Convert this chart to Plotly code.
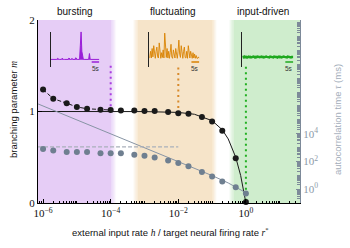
import plotly.graph_objects as go

# ---------------- data ----------------
h_pts = [1e-6, 2e-6, 5e-6, 1e-5, 2e-5, 5e-5, 1e-4, 2e-4, 5e-4, 1e-3, 2e-3, 5e-3,
         1e-2, 2e-2, 5e-2, 0.1, 0.2, 0.5, 1.0]
m_pts = [1.24, 1.14, 1.09, 1.05, 1.03, 1.02, 1.016, 1.01, 1.01, 1.005, 1.005, 0.995,
         0.98, 0.975, 0.94, 0.89, 0.79, 0.49, 0.01]
tau_pts = [780, 620, 480, 480, 480, 380, 380, 380, 300, 257, 195, 117,
           76, 44, 17.4, 8.3, 3.6, 1.35, 0.48]

# theory curves
h_theory = [7.1e-7, 1e-5, 1e-4, 1e-3, 1e-2, 3e-2, 0.1, 0.2, 0.3, 0.5, 0.7, 0.85, 0.95, 1.0]
m_theory = [1.0, 1.0, 1.0, 0.999, 0.99, 0.97, 0.9, 0.8, 0.7, 0.5, 0.3, 0.15, 0.05, 0.0]
h_tau_line = [7.1e-7, 1e-4, 1e-2, 1e-1, 0.3, 0.6, 1.0]
tau_line = [1.4e6, 1.0e4, 100, 9.5, 2.8, 1.1, 0.55]

# dashed guides
n_dashed = 7
tau_ref_level = 1100
h_ref_end = 1e-2

# regions (log10 h): core start, core end
regions = {
    "bursting": (-6.15, -3.98, "#e6cdf6"),
    "fluctuating": (-3.2, -1.0, "#f6e4c9"),
    "input-driven": (-0.36, 1.6, "#cfedcd"),
}
region_h = [1e-4, 1e-2, 1.0]
region_m_top = [1.5, 1.48, 1.49]
region_m_bot = [1.016, 0.98, 0.01]
region_colors = ["#a93ee0", "#d88a2c", "#22b022"]
region_dark = ["#9a1fd8", "#d98200", "#1ea81e"]

# inset activity traces (0.5 s bins, 0..32 s)
t_inset = [i * 0.5 for i in range(65)]
burst = [0.01] * 65
for i, v in {9: 0.05, 15: 0.05, 24: 0.06, 28: 0.05, 33: 0.07, 39: 0.5, 40: 1.0,
             41: 0.3, 42: 0.06, 51: 0.22}.items():
    burst[i] = v
fluct = [0.05, 0.08, 0.3, 0.06, 0.4, 0.1, 0.5, 0.08, 0.05, 0.3, 0.45, 0.1, 0.06, 0.6, 0.1, 0.05,
         0.25, 0.08, 0.35, 0.06, 0.95, 0.3, 0.08, 0.4, 0.06, 0.3, 0.05, 0.25, 0.55, 0.1, 0.05, 0.35,
         0.08, 0.06, 0.4, 0.1, 0.05, 0.3, 0.7, 0.2, 0.08, 0.5, 0.1, 0.05, 0.3, 0.45, 0.08, 0.06,
         0.3, 0.05, 0.5, 0.1, 0.06, 0.3, 0.08, 0.05, 0.25, 0.06, 0.2, 0.05, 0.15, 0.05, 0.05, 0.1, 0.05]
driven = [0.09, 0.1, 0.08, 0.11, 0.09, 0.1, 0.08, 0.1, 0.11, 0.09, 0.1, 0.08, 0.1, 0.09, 0.11, 0.1,
          0.08, 0.1, 0.09, 0.11, 0.1, 0.08, 0.09, 0.1, 0.11, 0.09, 0.1, 0.08, 0.1, 0.09, 0.11, 0.1,
          0.09, 0.1, 0.08, 0.11, 0.1, 0.09, 0.1, 0.08, 0.11, 0.09, 0.1, 0.1, 0.08, 0.1, 0.11, 0.09,
          0.1, 0.08, 0.1, 0.09, 0.11, 0.1, 0.09, 0.1, 0.08, 0.11, 0.1, 0.09, 0.1, 0.08, 0.1, 0.09, 0.1]
scale_bar_t = [27, 32]

x_label_decades = [-6, -4, -2, 0]
x_labels = ["10<sup>−6</sup>", "10<sup>−4</sup>", "10<sup>−2</sup>", "10<sup>0</sup>"]
tau_label_decades = [0, 2, 4]
tau_labels = ["10<sup>0</sup>", "10<sup>2</sup>", "10<sup>4</sup>"]

XMIN, XMAX = -6.15, 1.6
TMIN, TMAX = -1, 12.2

SERIF = "Liberation Serif"
SANS = "Liberation Sans"
BLACK = "#1a1a1a"
GRAY = "#6f7f90"
GRAY_LINE = "#8794a4"
AX_GRAY = "#7d8a99"

fig = go.Figure()

# ---- region shading (with soft edges) ----
def xfrac(lx):
    return (lx - XMIN) / (XMAX - XMIN)

shapes = []
fade = 0.14
steps = 5
for name, (a, b, col) in regions.items():
    shapes.append(dict(type="rect", xref="paper", yref="paper", x0=xfrac(a), x1=xfrac(b),
                       y0=0, y1=1, fillcolor=col, line_width=0, layer="below"))
    for k in range(steps):
        op = 1 - (k + 0.5) / steps
        if a > XMIN + 1e-9:
            shapes.append(dict(type="rect", xref="paper", yref="paper",
                               x0=xfrac(a - fade * (k + 1) / steps), x1=xfrac(a - fade * k / steps),
                               y0=0, y1=1, fillcolor=col, opacity=op, line_width=0, layer="below"))
        if b < XMAX - 1e-9:
            shapes.append(dict(type="rect", xref="paper", yref="paper",
                               x0=xfrac(b + fade * k / steps), x1=xfrac(b + fade * (k + 1) / steps),
                               y0=0, y1=1, fillcolor=col, opacity=op, line_width=0, layer="below"))

# ---- main traces ----
fig.add_trace(go.Scatter(x=h_tau_line, y=tau_line, mode="lines", yaxis="y2",
                         line=dict(color=GRAY_LINE, width=1), hoverinfo="skip"))
fig.add_trace(go.Scatter(x=[h_theory[0], h_ref_end], y=[tau_ref_level, tau_ref_level], mode="lines",
                         yaxis="y2", line=dict(color="#a9b0bb", width=1.2, dash="4px,2px")))
fig.add_trace(go.Scatter(x=h_pts, y=tau_pts, mode="markers", yaxis="y2", cliponaxis=False,
                         marker=dict(color=GRAY, size=6)))

fig.add_trace(go.Scatter(x=h_theory, y=m_theory, mode="lines",
                         line=dict(color=BLACK, width=1)))
fig.add_trace(go.Scatter(x=h_pts[:n_dashed], y=m_pts[:n_dashed], mode="lines",
                         line=dict(color=BLACK, width=1, dash="4px,2px")))
for hx, mt, mb, c in zip(region_h, region_m_top, region_m_bot, region_colors):
    fig.add_trace(go.Scatter(x=[hx, hx], y=[mt, mb], mode="lines",
                             line=dict(color=c, width=2, dash="2px,3.5px")))
fig.add_trace(go.Scatter(x=h_pts, y=m_pts, mode="markers", cliponaxis=False,
                         marker=dict(color=BLACK, size=6)))

# ---- insets ----
insets = [("x3", "y3", burst, region_dark[0]),
          ("x4", "y4", fluct, region_dark[1]),
          ("x5", "y5", driven, region_dark[2])]
for xa, ya, vals, c in insets:
    if xa == "x5":
        fig.add_trace(go.Scatter(x=t_inset, y=vals, xaxis=xa, yaxis=ya, mode="lines",
                                 line=dict(color=c, width=2.5)))
    elif xa == "x4":
        fig.add_trace(go.Scatter(x=t_inset, y=vals, xaxis=xa, yaxis=ya, mode="lines",
                                 line=dict(color=c, width=0.9)))
    else:
        fig.add_trace(go.Scatter(x=t_inset, y=vals, xaxis=xa, yaxis=ya, mode="lines",
                                 fill="tozeroy", fillcolor=c, line=dict(color=c, width=1)))
    fig.add_trace(go.Scatter(x=scale_bar_t, y=[-0.08, -0.08], xaxis=xa, yaxis=ya, mode="lines",
                             line=dict(color=c, width=1.5)))

annotations = []
for xa, ya, _, _ in insets:
    annotations.append(dict(x=sum(scale_bar_t) / 2, y=-0.13, xref=xa, yref=ya, text="5s",
                            showarrow=False, xanchor="center", yanchor="top",
                            font=dict(family=SANS, size=6.5, color="#333333")))

def px(xp):
    return (xp - 38) / 262

def py(yp):
    return (203 - yp) / 183

for (name, _), xc in zip(regions.items(), [75, 173, 263]):
    annotations.append(dict(x=px(xc), y=py(12), xref="paper", yref="paper",
                            text=name, showarrow=False, xanchor="center", yanchor="middle",
                            font=dict(family=SANS, size=10, color="#111111")))

annotations.append(dict(x=px(170), y=py(232), xref="paper", yref="paper",
                        xanchor="center", yanchor="middle",
                        text="external input rate <span style='font-family:Liberation Serif'><i>h</i></span>"
                             " / target neural firing rate <span style='font-family:Liberation Serif'><i>r</i><sup>*</sup></span>",
                        showarrow=False, font=dict(family=SANS, size=9.5, color="#111111")))
annotations.append(dict(x=px(13), y=py(110), xref="paper", yref="paper",
                        xanchor="center", yanchor="middle",
                        text="branching parameter <span style='font-family:Liberation Serif'><i>m</i></span>",
                        textangle=-90, showarrow=False,
                        font=dict(family=SANS, size=9.5, color="#111111")))
annotations.append(dict(x=px(338), y=py(120), xref="paper", yref="paper",
                        xanchor="center", yanchor="middle",
                        text="autocorrelation time <span style='font-family:Liberation Serif'><i>τ</i></span> (ms)",
                        textangle=-90, showarrow=False,
                        font=dict(family=SANS, size=9.5, color="#a3adba")))

def minor_vals(lo, hi, skip):
    out = []
    for d in range(int(lo) - 1, int(hi) + 1):
        for k in range(1, 10):
            if k == 1 and d in skip:
                continue
            out.append(k * 10 ** d)
    return out

inset_y = [py(66.7), py(31.7)]
inset_x = {"3": [px(50.7), px(99.3)],
           "4": [px(149), px(199.3)],
           "5": [px(242.3), px(293.3)]}

layout = dict(
    width=350, height=248,
    margin=dict(l=38, r=50, t=20, b=45, autoexpand=False),
    paper_bgcolor="white", plot_bgcolor="rgba(0,0,0,0)",
    showlegend=False,
    shapes=shapes,
    annotations=annotations,
    xaxis=dict(type="log", range=[XMIN, XMAX], showgrid=False, zeroline=False,
               showline=True, linecolor="black", linewidth=1,
               ticks="inside", ticklen=4, tickcolor="black",
               tickmode="array", tickvals=[10 ** k for k in x_label_decades],
               ticktext=x_labels,
               tickfont=dict(family=SERIF, size=11, color="#111111"),
               minor=dict(tickvals=minor_vals(XMIN, XMAX, x_label_decades), ticks="inside",
                          ticklen=2.5, tickcolor="black", showgrid=False)),
    yaxis=dict(range=[0, 2], showgrid=False, zeroline=False,
               showline=True, linecolor="black", linewidth=1,
               ticks="inside", ticklen=4, tickcolor="black",
               tickvals=[0, 1, 2], tickfont=dict(family=SERIF, size=11, color="#111111")),
    yaxis2=dict(type="log", range=[TMIN, TMAX], overlaying="y", side="right", anchor="x",
                showgrid=False, zeroline=False, showline=True, linecolor=AX_GRAY, linewidth=1.2,
                ticks="inside", ticklen=4, tickcolor=AX_GRAY,
                tickmode="array", tickvals=[10 ** k for k in tau_label_decades],
                ticktext=tau_labels,
                tickfont=dict(family=SERIF, size=11, color="#8d99a8"),
                minor=dict(tickvals=minor_vals(TMIN, TMAX, tau_label_decades), ticks="inside",
                           ticklen=2.5, tickcolor=AX_GRAY, showgrid=False)),
)
for n in ["3", "4", "5"]:
    layout["xaxis" + n] = dict(domain=inset_x[n], anchor="y" + n, range=[0, 32], visible=False)
    layout["yaxis" + n] = dict(domain=inset_y, anchor="x" + n, range=[-0.25, 1.0],
                               showgrid=False, zeroline=False, showline=True, linecolor="#222222",
                               linewidth=1, showticklabels=False, ticks="")
fig.update_layout(**layout)

fig.write_html("out.html", config={"displayModeBar": False},
               post_script="document.body.style.margin='0';")
